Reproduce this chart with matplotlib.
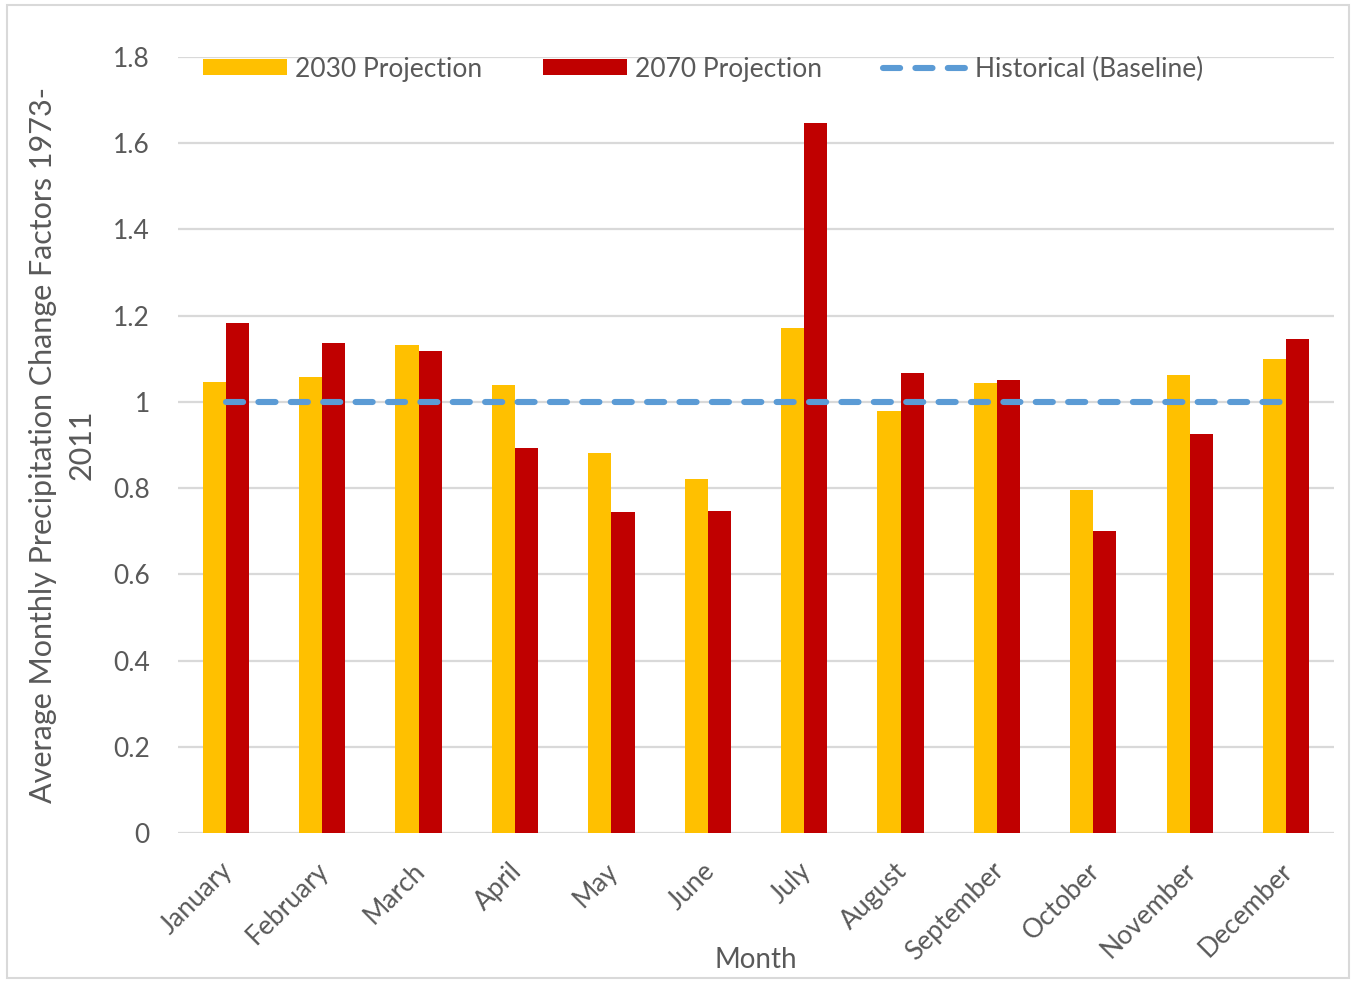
import matplotlib
matplotlib.use("Agg")
import matplotlib.pyplot as plt
import matplotlib.transforms as mtransforms
import numpy as np
from matplotlib.patches import Rectangle

months = ["January", "February", "March", "April", "May", "June", "July",
          "August", "September", "October", "November", "December"]
proj_2030 = [1.047, 1.058, 1.132, 1.039, 0.881, 0.821, 1.172, 0.980, 1.043, 0.796, 1.062, 1.099]
proj_2070 = [1.184, 1.136, 1.117, 0.892, 0.744, 0.748, 1.648, 1.066, 1.050, 0.700, 0.925, 1.146]
baseline = [1.0] * 12

plt.rcParams['font.family'] = ['Lato', 'DejaVu Sans']
txt = '#595959'

fig = plt.figure(figsize=(13.56, 9.83), dpi=100)
ax = fig.add_axes([0.131, 0.1526, 0.853, 0.7894])

x = np.arange(len(months))
w = 0.24
b1 = ax.bar(x - w / 2, proj_2030, w, color='#FFC000', label='2030 Projection', zorder=3)
b2 = ax.bar(x + w / 2, proj_2070, w, color='#C00000', label='2070 Projection', zorder=3)
l1, = ax.plot(x, baseline, color='#5B9BD5', lw=4.4, ls=(0, (2.8, 2.5)), dash_capstyle='round',
              solid_capstyle='round', label='Historical (Baseline)', zorder=4)

ax.set_xlim(-0.5, 11.5)
ax.set_ylim(0, 1.8)
ax.set_yticks(np.arange(0, 1.81, 0.2))
ax.set_yticklabels(['0', '0.2', '0.4', '0.6', '0.8', '1', '1.2', '1.4', '1.6', '1.8'])
ax.yaxis.grid(True, color='#D9D9D9', lw=1.6, zorder=0)
ax.set_axisbelow(True)
for s in ax.spines.values():
    s.set_visible(False)
ax.tick_params(length=0, labelsize=19, labelcolor=txt)
ax.tick_params(axis='y', pad=20)
ax.set_xticks(x)
ax.set_xticklabels(months, rotation=45, ha='right', va='top', rotation_mode='anchor')
ax.tick_params(axis='x', pad=18)
shift = mtransforms.ScaledTranslation(-6 / 100, 0, fig.dpi_scale_trans)
for lab in ax.get_xticklabels():
    lab.set_transform(lab.get_transform() + shift)

ax.set_ylabel('Average Monthly Precipitation Change Factors 1973-\n2011', fontsize=22,
              color=txt, linespacing=1.45)
ax.yaxis.set_label_coords(-0.071, 0.5)
ax.set_xlabel('Month', fontsize=20, color=txt)
ax.xaxis.set_label_coords(0.5, -0.147)

leg = ax.legend(handles=[b1, b2, l1], loc='center left', bbox_to_anchor=(0.0216, 0.9845),
                ncol=3, frameon=False, fontsize=19, handlelength=3.2, handleheight=0.53,
                columnspacing=2.3, handletextpad=0.3, borderpad=0, borderaxespad=0,
                labelcolor=txt)

fig.patches.append(Rectangle((0.005, 0.005), 0.99, 0.99, transform=fig.transFigure,
                             fill=False, edgecolor='#D9D9D9', lw=1.5))

fig.savefig('out.png', dpi=100)
